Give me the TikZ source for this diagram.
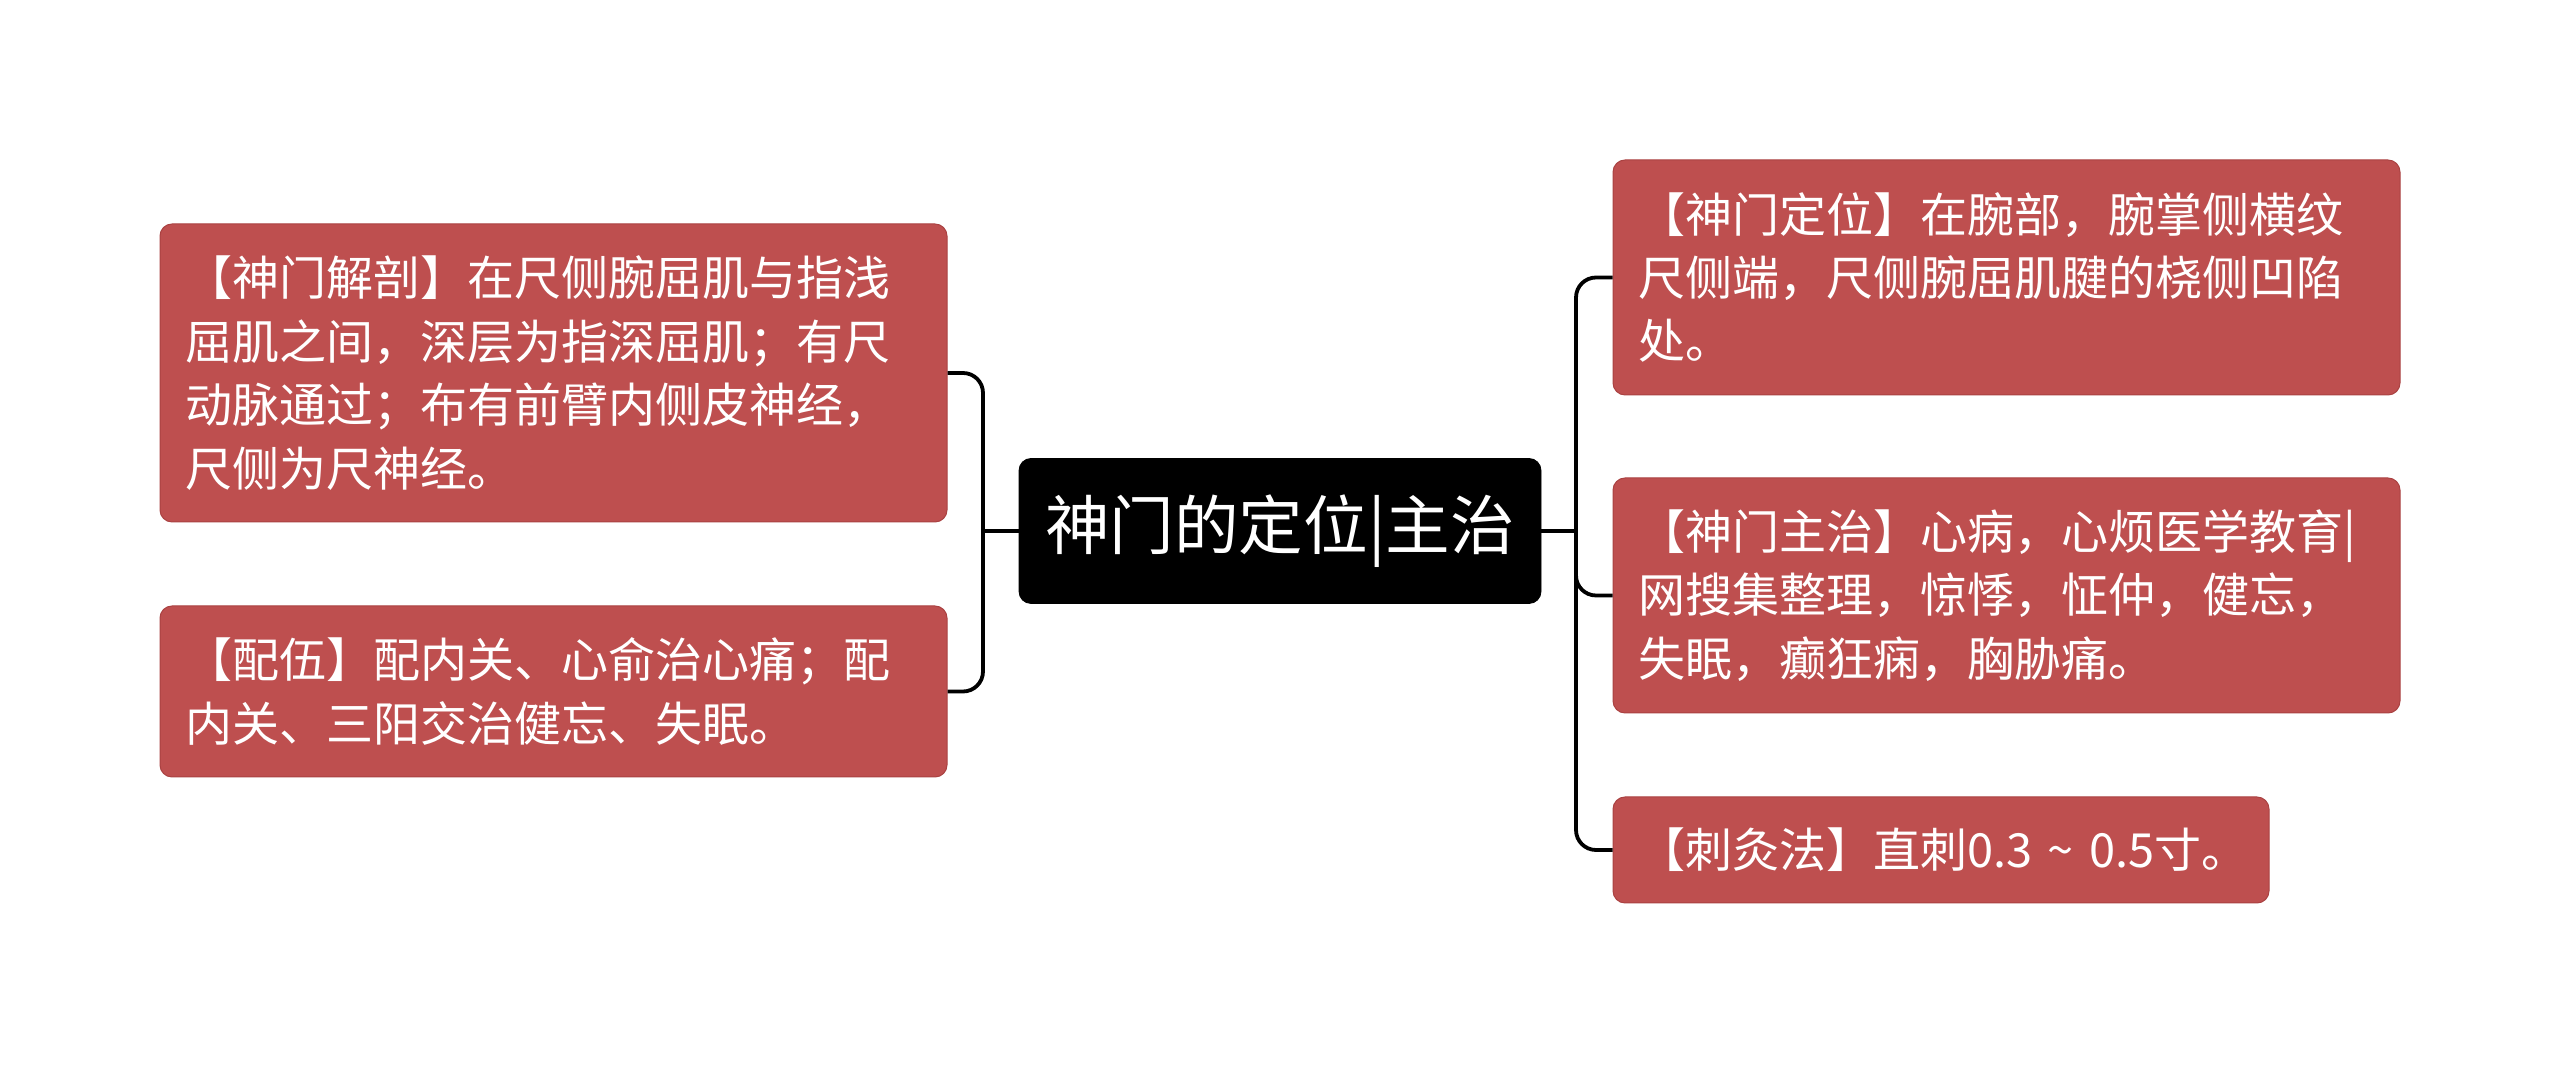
\documentclass[tikz,border=0pt]{standalone}
\usepackage{fontspec}
\usepackage{xcolor}
\usepackage{tikz}
\usetikzlibrary{positioning,calc}
\newfontfamily\cjk{Noto Sans CJK SC}
\definecolor{TopicRed}{RGB}{190,79,79}
\definecolor{TopicEdge}{RGB}{170,66,66}
\definecolor{RootBlack}{RGB}{0,0,0}
\definecolor{BranchLine}{RGB}{0,0,0}

\begin{document}
\begin{tikzpicture}[
    x=1pt, y=1pt,
    branch/.style={line width=1.9pt, draw=BranchLine, rounded corners=10pt},
    stem/.style={line width=1.9pt, draw=BranchLine},
    rootnode/.style={
        rounded corners=6pt,
        fill=RootBlack,
        draw=RootBlack,
        text=white,
        font=\cjk\fontsize{32.3}{36}\selectfont,
        align=center,
        inner sep=0pt,
        minimum width=261pt,
        minimum height=72.5pt
    },
    topic/.style={
        rounded corners=6pt,
        fill=TopicRed,
        draw=TopicEdge,
        line width=0.5pt,
        text=white,
        font=\cjk\fontsize{23.5}{31.7}\selectfont,
        align=left,
        inner xsep=12.5pt,
        inner ysep=0pt
    },
    widetopic/.style={topic, text width=368.5pt, minimum width=393.5pt},
    shorttopic/.style={topic, text width=303pt, minimum width=328pt}
]

% Page frame, same proportions as the exported mind map.
\useasboundingbox (0,0) rectangle (1280,532.5);

% Central topic.
\node[rootnode] (root) at (640,267) {神门的定位|主治};

% Left side: anatomy and point combination.
\node[widetopic, minimum height=149pt] (anatomy) at (276.75,346) {【神门解剖】在尺侧腕屈肌与指浅\\
屈肌之间，深层为指深屈肌；有尺\\
动脉通过；布有前臂内侧皮神经，\\
尺侧为尺神经。};

\node[widetopic, minimum height=85.5pt] (pairing) at (276.75,186.75) {【配伍】配内关、心俞治心痛；配\\
内关、三阳交治健忘、失眠。};

% Right side: location, indications and needling.
\node[widetopic, minimum height=117.5pt] (location) at (1003.25,393.75) {【神门定位】在腕部，腕掌侧横纹\\
尺侧端，尺侧腕屈肌腱的桡侧凹陷\\
处。};

\node[widetopic, minimum height=117.5pt] (indication) at (1003.25,234.75) {【神门主治】心病，心烦医学教育|\\
网搜集整理，惊悸，怔仲，健忘，\\
失眠，癫狂痫，胸胁痛。};

\node[shorttopic, minimum height=53pt] (needling) at (970.5,107.5) {\mbox{【刺灸法】直刺0.3 \textasciitilde{} 0.5寸。}};

% Branch junctions beside the central topic.
\coordinate (ljunc) at (491.5,267);
\coordinate (rjunc) at (788,267);

% Stems out of the central topic.
\draw[stem] (root.west) -- (ljunc);
\draw[stem] (root.east) -- (rjunc);

% Left branches.
\draw[branch] (ljunc) |- (anatomy.east);
\draw[branch] (ljunc) |- (pairing.east);

% Right branches.
\draw[branch] (rjunc) |- (location.west);
\draw[branch] (rjunc) |- (indication.west);
\draw[branch] (rjunc) |- (needling.west);

\end{tikzpicture}
\end{document}
